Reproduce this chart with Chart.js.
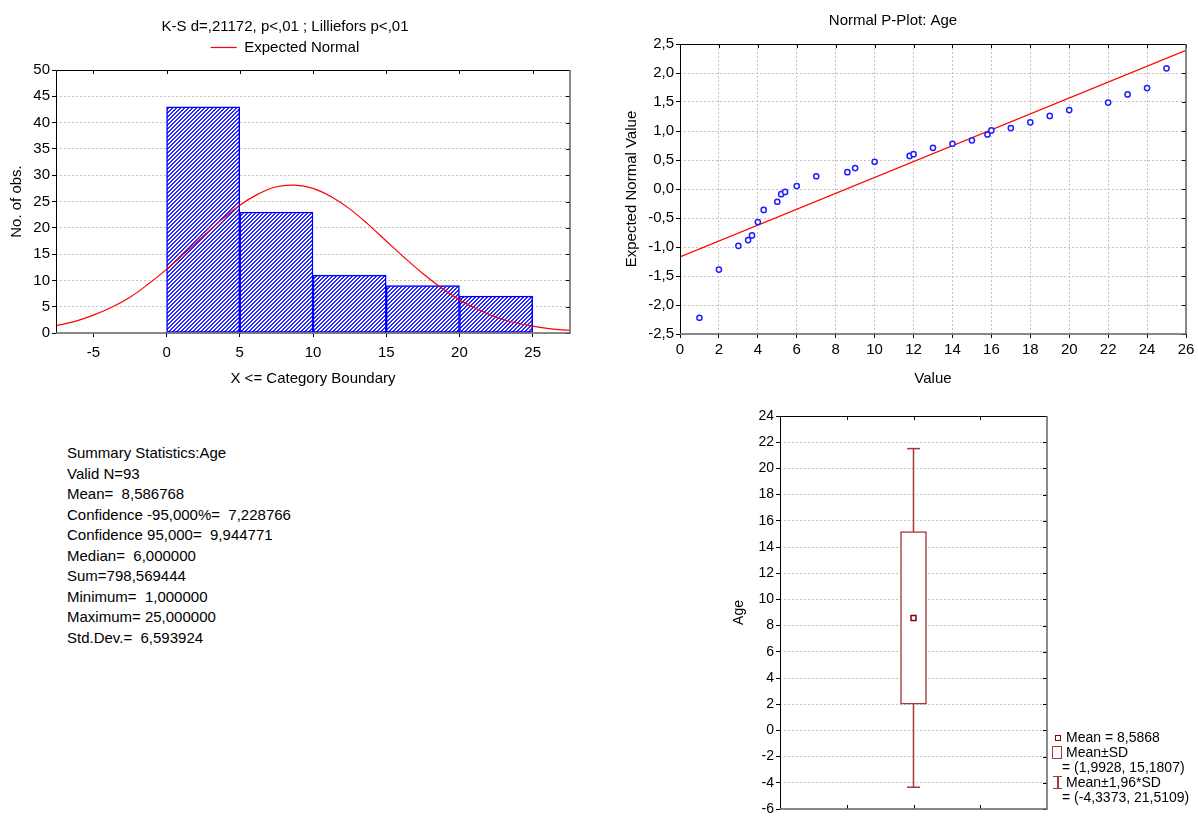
<!DOCTYPE html>
<html>
<head>
<meta charset="utf-8">
<script src="https://cdn.jsdelivr.net/npm/chart.js@4.4.0/dist/chart.umd.min.js"></script>
<style>
  body { margin: 0; background: #fff; font-family: 'Liberation Sans', Arial, sans-serif; color: #000; }
  #page { position: relative; width: 1198px; height: 817px; overflow: hidden; }
  .panel { position: absolute; }
  #summary { position: absolute; left: 67px; top: 443px; font-size: 15px; line-height: 20.5px; white-space: pre; }
  .lg { position: absolute; font-size: 14px; line-height: 15px; white-space: pre; }
  .sym { position: absolute; box-sizing: border-box; }
</style>
</head>
<body>
<div id="page">
  <div class="panel" style="left:0;top:0;width:600px;height:400px"><canvas id="histChart"></canvas></div>
  <div class="panel" style="left:600px;top:0;width:598px;height:400px"><canvas id="ppChart"></canvas></div>
  <div class="panel" style="left:600px;top:400px;width:598px;height:417px"><canvas id="boxChart"></canvas></div>
  <div id="summary"></div>
  <div id="boxLegend"></div>
</div>
<script>
// ---- histogram ----
const histCenters = [-2.5, 2.5, 7.5, 12.5, 17.5, 22.5];
const histCounts = [0, 43, 23, 11, 9, 7];
const histXTicks = [-5, 0, 5, 10, 15, 20, 25];
const histYTicks = [0, 5, 10, 15, 20, 25, 30, 35, 40, 45, 50];
const normalX = [-7.5, -6.25, -5, -3.75, -2.5, -1.25, 0, 1.25, 2.5, 3.75, 5, 6.25, 7.5, 8.75, 10,
                 11.25, 12.5, 13.75, 15, 16.25, 17.5, 18.75, 20, 21.25, 22.5, 23.75, 25, 26.25, 27.5];
const normalY = [1.4, 2.2, 3.4, 4.9, 6.8, 9.3, 12.1, 15.2, 18.4, 21.5, 24.3, 26.4, 27.8, 28.1, 27.5,
                 25.9, 23.6, 20.7, 17.5, 14.3, 11.3, 8.6, 6.3, 4.5, 3.0, 2.0, 1.3, 0.8, 0.5];

// ---- normal probability plot ----
const ppValue = [1, 2, 3, 3.5, 3.7, 4, 4.3, 5, 5.2, 5.4, 6, 7, 8.6, 9, 10, 11.8, 12, 13, 14, 15,
                 15.8, 16, 17, 18, 19, 20, 22, 23, 24, 25];
const ppExpected = [-2.22, -1.39, -0.98, -0.88, -0.80, -0.57, -0.36, -0.22, -0.09, -0.05, 0.05, 0.22,
                    0.29, 0.36, 0.47, 0.57, 0.60, 0.71, 0.78, 0.84, 0.94, 1.01, 1.05, 1.15, 1.26,
                    1.36, 1.49, 1.63, 1.74, 2.08];
const ppLineX = [0, 26];
const ppLineY = [-1.17, 2.39];
const ppXTicks = [0, 2, 4, 6, 8, 10, 12, 14, 16, 18, 20, 22, 24, 26];
const ppYTicks = [-2.5, -2, -1.5, -1, -0.5, 0, 0.5, 1, 1.5, 2, 2.5];

// ---- box plot ----
const boxMean = 8.5868;
const boxSD = [1.9928, 15.1807];
const boxCI = [-4.3373, 21.5109];
const boxYTicks = [-6, -4, -2, 0, 2, 4, 6, 8, 10, 12, 14, 16, 18, 20, 22, 24];
const boxXTicks = [1, 2, 3];

const summaryLines = [
  'Summary Statistics:Age',
  'Valid N=93',
  'Mean=  8,586768',
  'Confidence -95,000%=  7,228766',
  'Confidence 95,000=  9,944771',
  'Median=  6,000000',
  'Sum=798,569444',
  'Minimum=  1,000000',
  'Maximum= 25,000000',
  'Std.Dev.=  6,593924'
];

Chart.defaults.font.family = "'Liberation Sans', Arial, sans-serif";
Chart.defaults.font.size = 15;
Chart.defaults.color = '#000';
Chart.defaults.animation = false;

const gridColor = '#c4c4c4';
const boxColor = '#a33a3a';
const comma = v => String(v).replace('.', ',');

function zeroPad(s) {
  s.paddingLeft = 0; s.paddingRight = 0; s.paddingTop = 0; s.paddingBottom = 0;
}
function setTicks(arr) {
  return s => { s.ticks = arr.map(v => ({ value: v })); };
}

// frame + inner mirrored ticks
const framePlugin = {
  id: 'frame',
  afterDatasetsDraw(chart, args, opts) {
    const { ctx, chartArea: a } = chart;
    const xs = chart.scales.x, ys = chart.scales.y;
    ctx.save();
    ctx.lineWidth = 1;
    ctx.strokeStyle = '#000';
    ctx.beginPath();
    ys.ticks.forEach(t => {
      const p = Math.round(ys.getPixelForValue(t.value)) + 0.5;
      ctx.moveTo(a.right, p); ctx.lineTo(a.right - 4, p);
    });
    xs.ticks.forEach(t => {
      const p = Math.round(xs.getPixelForValue(t.value)) + 0.5;
      ctx.moveTo(p, a.top); ctx.lineTo(p, a.top + 4);
      if (opts.bottomInner) { ctx.moveTo(p, a.bottom); ctx.lineTo(p, a.bottom - 4); }
    });
    ctx.stroke();
    ctx.beginPath();
    ctx.moveTo(a.left + 0.5, a.bottom);
    ctx.lineTo(a.left + 0.5, a.top + 0.5);
    ctx.lineTo(a.right, a.top + 0.5);
    ctx.stroke();
    ctx.strokeStyle = '#666';
    ctx.lineWidth = 1.5;
    ctx.beginPath();
    ctx.moveTo(a.left, a.bottom);
    ctx.lineTo(a.right, a.bottom);
    ctx.lineTo(a.right, a.top);
    ctx.stroke();
    ctx.restore();
  }
};

// fine blue diagonal hatch like the original fill
function makeHatch() {
  const c = document.createElement('canvas');
  c.width = 4; c.height = 4;
  const g = c.getContext('2d');
  g.fillStyle = '#fff';
  g.fillRect(0, 0, 4, 4);
  g.fillStyle = '#2626ff';
  for (let i = 0; i < 4; i++) {
    g.fillRect(i, 3 - i, 1, 1);
    g.fillRect((i + 1) % 4, 3 - i, 1, 1);
  }
  return g.createPattern(c, 'repeat');
}

// ---------- histogram ----------
new Chart(document.getElementById('histChart'), {
  type: 'bar',
  data: {
    datasets: [
      {
        label: 'Observed',
        data: histCenters.map((x, i) => ({ x: x, y: histCounts[i] })),
        backgroundColor: makeHatch(),
        borderColor: '#0000ff',
        borderWidth: 1.5,
        borderSkipped: false,
        barPercentage: 1,
        categoryPercentage: 1,
        order: 2
      },
      {
        type: 'line',
        label: 'Expected Normal',
        data: normalX.map((x, i) => ({ x: x, y: normalY[i] })),
        borderColor: '#ff0000',
        borderWidth: 1.2,
        pointRadius: 0,
        pointStyle: 'line',
        tension: 0.4,
        order: 1
      }
    ]
  },
  options: {
    responsive: true,
    maintainAspectRatio: false,
    layout: { padding: { left: 0, right: 30, top: 0, bottom: 0 } },
    plugins: {
      title: {
        display: true,
        text: 'K-S d=,21172, p<,01 ; Lilliefors p<,01',
        font: { size: 15, weight: 'normal' },
        color: '#000',
        padding: { top: 18, bottom: 0 }
      },
      legend: {
        display: true,
        labels: {
          usePointStyle: true,
          pointStyleWidth: 26,
          padding: 4,
          color: '#000',
          font: { size: 15 },
          filter: item => item.datasetIndex === 1
        }
      },
      tooltip: { enabled: false },
      frame: {}
    },
    scales: {
      x: {
        type: 'linear',
        position: 'bottom',
        min: -7.55,
        max: 27.55,
        offset: false,
        afterBuildTicks: setTicks(histXTicks),
        ticks: { padding: 7, callback: v => String(v) },
        grid: { offset: false, drawOnChartArea: false, tickLength: 4, tickColor: '#000' },
        border: { display: false },
        title: { display: true, text: 'X <= Category Boundary', padding: { top: 0, bottom: 12 } },
        afterFit: s => { s.height = 67; zeroPad(s); }
      },
      xTop: {
        type: 'linear',
        position: 'top',
        ticks: { display: false },
        grid: { display: false },
        border: { display: false },
        afterFit: s => { s.height = 5; zeroPad(s); }
      },
      y: {
        min: 0,
        max: 50,
        afterBuildTicks: setTicks(histYTicks),
        ticks: { padding: 2 },
        grid: { color: gridColor, tickLength: 4, tickColor: '#000' },
        border: { display: false, dash: [2, 2] },
        title: { display: true, text: 'No. of obs.', padding: { top: 8, bottom: 0 } },
        afterFit: s => { s.width = 56; zeroPad(s); }
      }
    }
  },
  plugins: [framePlugin]
});

// ---------- normal P-plot ----------
new Chart(document.getElementById('ppChart'), {
  type: 'scatter',
  data: {
    datasets: [
      {
        label: 'Age',
        data: ppValue.map((x, i) => ({ x: x, y: ppExpected[i] })),
        pointStyle: 'circle',
        pointRadius: 2.6,
        pointBorderWidth: 1.5,
        pointBorderColor: '#1e1eff',
        pointBackgroundColor: '#fff',
        order: 1
      },
      {
        label: 'Line',
        data: ppLineX.map((x, i) => ({ x: x, y: ppLineY[i] })),
        showLine: true,
        borderColor: '#ff0000',
        borderWidth: 1.2,
        pointRadius: 0,
        order: 2
      }
    ]
  },
  options: {
    responsive: true,
    maintainAspectRatio: false,
    layout: { padding: { left: 0, right: 12, top: 0, bottom: 0 } },
    plugins: {
      title: {
        display: true,
        text: 'Normal P-Plot: Age',
        font: { size: 15, weight: 'normal' },
        color: '#000',
        padding: { top: 12, bottom: 14 }
      },
      legend: { display: false },
      tooltip: { enabled: false },
      frame: {}
    },
    scales: {
      x: {
        type: 'linear',
        min: 0,
        max: 26,
        afterBuildTicks: setTicks(ppXTicks),
        ticks: { padding: 3, callback: v => String(v) },
        grid: { color: gridColor, tickLength: 4, tickColor: '#000' },
        border: { display: false, dash: [2, 2] },
        title: { display: true, text: 'Value', padding: { top: 0, bottom: 12 } },
        afterFit: s => { s.height = 66; zeroPad(s); }
      },
      y: {
        min: -2.5,
        max: 2.5,
        afterBuildTicks: setTicks(ppYTicks),
        ticks: { padding: 2, callback: v => comma(v.toFixed(1)) },
        grid: { color: gridColor, tickLength: 4, tickColor: '#000' },
        border: { display: false, dash: [2, 2] },
        title: { display: true, text: 'Expected Normal Value', padding: { top: 23, bottom: 0 } },
        afterFit: s => { s.width = 80; zeroPad(s); }
      }
    }
  },
  plugins: [framePlugin]
});

// ---------- box plot ----------
new Chart(document.getElementById('boxChart'), {
  type: 'bar',
  data: {
    datasets: [
      {
        label: 'Mean±SD',
        data: [{ x: 2, y: [boxSD[0], boxSD[1]] }],
        backgroundColor: '#fff',
        borderColor: boxColor,
        borderWidth: 1.5,
        borderSkipped: false,
        barThickness: 26,
        order: 1
      },
      {
        type: 'line',
        label: 'Mean±1,96*SD',
        data: [{ x: 2, y: boxCI[0] }, { x: 2, y: boxCI[1] }],
        borderColor: boxColor,
        borderWidth: 1.5,
        pointStyle: 'line',
        pointRadius: 6.5,
        pointBorderColor: boxColor,
        pointBorderWidth: 1.5,
        order: 2
      },
      {
        type: 'line',
        label: 'Mean',
        data: [{ x: 2, y: boxMean }],
        showLine: false,
        pointStyle: 'rect',
        pointRadius: 3.5,
        pointBackgroundColor: '#fff',
        pointBorderColor: '#8b0000',
        pointBorderWidth: 1.5,
        order: 0
      }
    ]
  },
  options: {
    responsive: true,
    maintainAspectRatio: false,
    layout: { padding: { left: 0, right: 151, top: 16, bottom: 1 } },
    plugins: {
      legend: { display: false },
      tooltip: { enabled: false },
      frame: { bottomInner: true }
    },
    scales: {
      x: {
        type: 'linear',
        min: 0,
        max: 4,
        offset: false,
        afterBuildTicks: setTicks(boxXTicks),
        ticks: { display: false },
        grid: { display: false, offset: false },
        border: { display: false },
        afterFit: s => { s.height = 0; zeroPad(s); }
      },
      y: {
        min: -6,
        max: 24,
        afterBuildTicks: setTicks(boxYTicks),
        ticks: { padding: 2, font: { size: 14 } },
        grid: { color: gridColor, tickLength: 4, tickColor: '#000' },
        border: { display: false, dash: [2, 2] },
        title: { display: true, text: 'Age', font: { size: 14 }, padding: { top: 131, bottom: 0 } },
        afterFit: s => { s.width = 180; zeroPad(s); }
      }
    }
  },
  plugins: [framePlugin]
});

// ---------- summary statistics text ----------
document.getElementById('summary').textContent = summaryLines.join('\n');

// ---------- box plot legend ----------
const legendEl = document.getElementById('boxLegend');
const legendHtml = [
  '<div class="sym" style="left:1055px;top:735px;width:6px;height:6px;border:1.5px solid #8b0000"></div>',
  '<div class="lg" style="left:1066px;top:730px">Mean = ' + comma(boxMean) + '</div>',
  '<div class="sym" style="left:1052px;top:746px;width:10px;height:13px;border:1.5px solid ' + boxColor + '"></div>',
  '<div class="lg" style="left:1066px;top:745px">Mean±SD</div>',
  '<div class="lg" style="left:1062px;top:760px">= (' + comma(boxSD[0]) + ', ' + comma(boxSD[1]) + ')</div>',
  '<div class="sym" style="left:1053px;top:776px;width:9px;height:13px;border-top:1.5px solid ' + boxColor + ';border-bottom:1.5px solid ' + boxColor + '"></div>',
  '<div class="sym" style="left:1057px;top:776px;width:1.5px;height:13px;background:' + boxColor + '"></div>',
  '<div class="lg" style="left:1066px;top:775px">Mean±1,96*SD</div>',
  '<div class="lg" style="left:1062px;top:790px">= (' + comma(boxCI[0]) + ', ' + comma(boxCI[1]) + ')</div>'
];
legendEl.innerHTML = legendHtml.join('');
</script>
</body>
</html>
